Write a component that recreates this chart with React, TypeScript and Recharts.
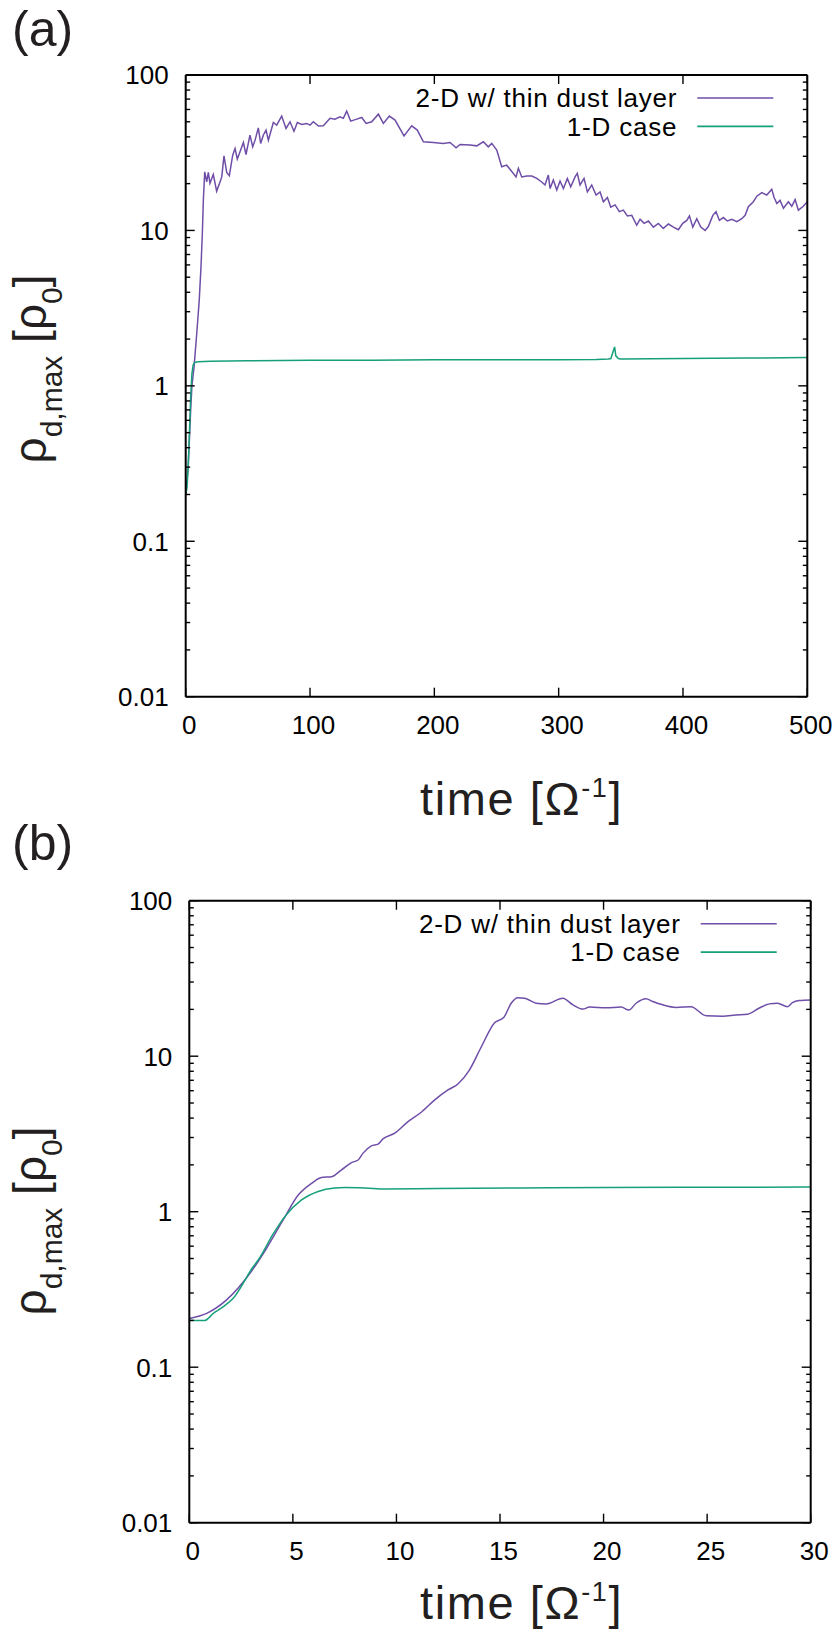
import React from 'react';
import { LineChart, Line, XAxis, YAxis, Label } from 'recharts';

const FONT = '"Liberation Sans", Arial, Helvetica, sans-serif';
const TITLE_COLOR = '#231f20';

// ---- series meta ----
const seriesNames = ['2-D w/ thin dust layer', '1-D case'];
const seriesColors = ['#6f4ea8', '#16a07a'];

// ---- axis ticks ----
const yDecades = [0.01, 0.1, 1, 10, 100];
const yDecadeLabels = ['0.01', '0.1', '1', '10', '100'];
const yAllTicks = [
  0.01, 0.02, 0.03, 0.04, 0.05, 0.06, 0.07, 0.08, 0.09,
  0.1, 0.2, 0.3, 0.4, 0.5, 0.6, 0.7, 0.8, 0.9,
  1, 2, 3, 4, 5, 6, 7, 8, 9,
  10, 20, 30, 40, 50, 60, 70, 80, 90, 100,
];
const xTicksA = [0, 100, 200, 300, 400, 500];
const xLabelsA = ['0', '100', '200', '300', '400', '500'];
const xTicksB = [0, 5, 10, 15, 20, 25, 30];
const xLabelsB = ['0', '5', '10', '15', '20', '25', '30'];

// ---- panel (a) data: [time, rho_d,max] ----
const a2D: [number, number][] = [
  [0, 0.2], [2, 0.3], [4, 0.7], [5, 1.0], [6.7, 1.32], [8.9, 2.18], [10.9, 3.56], [12.3, 5.83],
  [13.4, 9.6], [14.2, 15.7], [15.3, 23.8], [16.9, 20.5], [18.2, 23.6], [19.5, 20.1], [22.2, 22.9],
  [24.9, 17.9], [27.6, 20.5], [29, 22.1], [30.8, 30.2], [33, 23.6], [35.1, 22.5], [37.8, 30.5],
  [39.7, 33.7], [41.5, 28.8], [43.7, 32.1], [46.4, 36.8], [48.5, 30.8], [51.7, 41], [53.9, 34.5],
  [55.8, 38.1], [58.4, 45.7], [60.3, 36.3], [62.4, 41], [64.6, 44.2], [66.5, 38.1], [70.5, 49.5],
  [73.2, 47.6], [77.2, 54.4], [80.7, 45.3], [83.9, 50], [87.1, 43.5], [89.8, 49.5], [93.3, 48.1],
  [97.3, 48.8], [100, 47.6], [102.7, 50], [106.7, 46.9], [110.7, 47.1], [116.1, 52.6], [120.1, 52],
  [124.1, 53.8], [126.8, 52.6], [129.5, 58.6], [132.7, 50.5], [137.6, 52], [141.6, 53.3],
  [145.1, 48.8], [149.6, 50], [155, 56], [159, 48.8], [163.8, 54.4], [168.4, 51.3], [175.6, 40.6],
  [181.8, 47.1], [186.3, 44.2], [191.2, 37.2], [199.2, 36.8], [207.2, 36.3], [212.6, 36.8],
  [217.5, 34], [220.7, 35.7], [228.7, 35.4], [234.1, 35], [239.4, 37.2], [243.4, 34.5],
  [246.2, 36.3], [250.2, 32.9], [254.2, 25.7], [258.2, 26.3], [261.5, 24.4], [265.7, 22.1],
  [267.6, 25.1], [270.3, 22.1], [274.3, 22.4], [278.4, 22.4], [282.4, 21.6], [286.4, 20.5],
  [289, 19.6], [291.7, 22.7], [293.1, 18.6], [295.7, 21.1], [298.5, 18.2], [301.1, 20.8],
  [303.8, 18.6], [307, 21.6], [309.7, 19.1], [313.2, 22.1], [315, 23.3], [317.2, 19.6],
  [320.4, 21.6], [323.1, 17.7], [326.6, 19.6], [330.1, 16.9], [333.3, 17.7], [336, 15.3],
  [339.2, 16.3], [341.9, 14.1], [345.4, 14.6], [348.8, 13.2], [352, 13.5], [355.3, 12.4],
  [358.8, 12.5], [362.8, 10.8], [365.5, 11.8], [368.7, 11.1], [372.2, 11.5], [376.2, 10.5],
  [380.2, 11.1], [384.2, 10.3], [388.3, 11], [392.3, 10.5], [396.3, 10.1], [399.8, 11.1],
  [403.1, 11.6], [405.2, 12.4], [407.9, 10.5], [411.1, 11.9], [414.3, 10.5], [417.8, 10],
  [420.4, 10.6], [424, 12.5], [426.6, 13.2], [429.3, 11.6], [432.5, 12.1], [435.7, 11.5],
  [439.3, 11.8], [443.3, 11.4], [447.3, 11.9], [450, 12.5], [452.6, 14.2], [456.6, 15.3],
  [459.4, 16.6], [463.4, 17.5], [467.4, 16.9], [471.4, 18.4], [473.3, 16.3], [475.5, 14.9],
  [478.1, 15.6], [480.8, 13.9], [484.8, 15.3], [487.5, 14.3], [490.2, 15.8], [492.8, 13.5],
  [496.8, 14.3], [500, 15.3],
];
const a1D: [number, number][] = [
  [0, 0.2], [1, 0.22], [2, 0.3], [3, 0.5], [4, 0.85], [5, 1.2], [6, 1.36], [7, 1.41], [8, 1.42],
  [10, 1.43], [20, 1.44], [50, 1.45], [100, 1.46], [150, 1.46], [200, 1.47], [250, 1.47],
  [300, 1.47], [330, 1.48], [340, 1.49], [342, 1.5], [344, 1.68], [345, 1.78], [346, 1.56],
  [348, 1.5], [350, 1.49], [400, 1.5], [450, 1.51], [500, 1.52],
];

// ---- panel (b) data ----
const b2D: [number, number][] = [
  [0, 0.206], [0.84, 0.222], [1.8, 0.271], [2.93, 0.402], [3.73, 0.582], [4.53, 0.885],
  [5.26, 1.28], [5.9, 1.52], [6.38, 1.66], [6.87, 1.68], [7.35, 1.86], [7.83, 2.07], [8.15, 2.15],
  [8.39, 2.38], [8.79, 2.65], [9.11, 2.72], [9.35, 2.94], [9.92, 3.2], [10.56, 3.8], [11.2, 4.36],
  [11.85, 5.24], [12.49, 6.07], [12.97, 6.63], [13.53, 8.17], [14.1, 11.5], [14.74, 16.4],
  [15.19, 17.8], [15.54, 21.9], [15.86, 23.8], [16.19, 23.6], [16.75, 21.9], [17.23, 21.7],
  [18.03, 23.6], [18.52, 21.4], [19, 20.1], [19.32, 20.7], [20.13, 20.5], [20.85, 20.7],
  [21.22, 19.8], [21.57, 21.9], [22.05, 23.4], [22.37, 22.5], [22.86, 21.4], [23.5, 20.6],
  [24.22, 20.8], [24.95, 18.2], [25.75, 18.1], [26.39, 18.4], [26.95, 18.6], [27.52, 20.4],
  [28, 21.7], [28.4, 21.9], [28.88, 20.8], [29.12, 22.1], [29.44, 22.8], [30, 23.0],
];
const b1D: [number, number][] = [
  [0, 0.2], [0.75, 0.2], [1.16, 0.222], [1.64, 0.245], [2.12, 0.278], [3.09, 0.444], [3.33, 0.49],
  [4.05, 0.72], [4.61, 0.93], [5.42, 1.19], [6.22, 1.35], [7.02, 1.42], [7.5, 1.43], [8.5, 1.42],
  [9.44, 1.4], [12, 1.41], [16, 1.42], [20, 1.43], [25, 1.435], [30, 1.44],
];

const toRows = (arr: [number, number][]) => arr.map(([t, v]) => ({ t, v }));

type Geom = { L: number; R: number; T: number; B: number; W: number; H: number };

type PanelProps = {
  geom: Geom;
  xDomain: [number, number];
  xTicks: number[];
  xLabels: string[];
  data: [number, number][][];
  panelLabel: string;
  panelLabelY: number;
  yTitleCy: number;
  xTitleY: number;
  curve: 'linear' | 'monotone';
};

function Panel({ geom, xDomain, xTicks, xLabels, data, panelLabel, panelLabelY, yTitleCy, xTitleY, curve }: PanelProps) {
  const yAxisW = 60;
  const xAxisH = 30;
  const margin = {
    top: geom.T - 1,
    left: geom.L - yAxisW,
    right: geom.W - geom.R - 1,
    bottom: geom.H - geom.B - xAxisH,
  };
  const tickStroke = { stroke: '#000', strokeWidth: 1.4 };

  const LeftTick = (p: any) => {
    const v = p.payload.value;
    const di = yDecades.indexOf(v);
    const len = di >= 0 ? 9 : 4.5;
    return (
      <g>
        <line x1={geom.L} x2={geom.L + len} y1={p.y} y2={p.y} {...tickStroke} />
        {di >= 0 && (
          <text x={geom.L - 17} y={p.y + 9.3} textAnchor="end" fontSize={26} fontFamily={FONT} fill="#000">
            {yDecadeLabels[di]}
          </text>
        )}
      </g>
    );
  };
  const RightTick = (p: any) => {
    const v = p.payload.value;
    const len = yDecades.indexOf(v) >= 0 ? 9 : 4.5;
    return <line x1={geom.R} x2={geom.R - len} y1={p.y} y2={p.y} {...tickStroke} />;
  };
  const BottomTick = (p: any) => {
    const i = xTicks.indexOf(p.payload.value);
    return (
      <g>
        <line x1={p.x} x2={p.x} y1={geom.B} y2={geom.B - 9} {...tickStroke} />
        <text x={p.x + 3.5} y={geom.B + 36.8} textAnchor="middle" fontSize={26} fontFamily={FONT} fill="#000">
          {xLabels[i]}
        </text>
      </g>
    );
  };
  const TopTick = (p: any) => <line x1={p.x} x2={p.x} y1={geom.T} y2={geom.T + 9} {...tickStroke} />;

  const legendContent = () => (
    <g>
      {seriesNames.map((name, i) => {
        const ly = geom.T + 23 + i * 28.4;
        return (
          <g key={name}>
            <text x={geom.R - 130} y={ly + 9.3} textAnchor="end" fontSize={26} letterSpacing={0.8}
              fontFamily={FONT} fill="#000">{name}</text>
            <line x1={geom.R - 110} x2={geom.R - 34} y1={ly} y2={ly} stroke={seriesColors[i]} strokeWidth={1.6} />
          </g>
        );
      })}
    </g>
  );

  const xTitle = () => (
    <text x={420} y={xTitleY} fontSize={47} letterSpacing={1.6} fontFamily={FONT} fill={TITLE_COLOR}>
      {'time [Ω'}
      <tspan fontSize={27} dy={-18}>-1</tspan>
      <tspan dy={18}>]</tspan>
    </text>
  );

  const yTitle = () => (
    <g>
      <text x={46} y={yTitleCy} transform={`rotate(-90, 46, ${yTitleCy})`} textAnchor="middle"
        fontFamily={FONT} fill={TITLE_COLOR}>
        <tspan fontSize={46}>ρ</tspan>
        <tspan fontSize={30} dy={16}>d,max</tspan>
        <tspan fontSize={46} dy={-16}>{' [ρ'}</tspan>
        <tspan fontSize={30} dy={16}>0</tspan>
        <tspan fontSize={46} dy={-16}>]</tspan>
      </text>
      <text x={12} y={panelLabelY} fontSize={50} fontFamily={FONT} fill={TITLE_COLOR}>{panelLabel}</text>
    </g>
  );

  return (
    <LineChart width={geom.W} height={geom.H} margin={margin}>
      <XAxis xAxisId="b" type="number" dataKey="t" domain={xDomain} ticks={xTicks} interval={0}
        height={xAxisH} tickLine={false} axisLine={{ stroke: '#000', strokeWidth: 2 }} tick={BottomTick}
        allowDataOverflow>
        <Label content={xTitle} />
      </XAxis>
      <XAxis xAxisId="top" orientation="top" type="number" dataKey="t" domain={xDomain} ticks={xTicks}
        interval={0} height={1} tickLine={false} axisLine={{ stroke: '#000', strokeWidth: 2 }} tick={TopTick}
        allowDataOverflow>
        <Label content={legendContent} />
      </XAxis>
      <YAxis yAxisId="l" type="number" scale="log" domain={[0.01, 100]} ticks={yAllTicks} interval={0}
        width={yAxisW} tickLine={false} axisLine={{ stroke: '#000', strokeWidth: 2 }} tick={LeftTick}
        allowDataOverflow>
        <Label content={yTitle} />
      </YAxis>
      <YAxis yAxisId="r" orientation="right" type="number" scale="log" domain={[0.01, 100]} ticks={yAllTicks}
        interval={0} width={1} tickLine={false} axisLine={{ stroke: '#000', strokeWidth: 2 }} tick={RightTick}
        allowDataOverflow />
      {data.map((d, i) => (
        <Line key={seriesNames[i]} name={seriesNames[i]} xAxisId="b" yAxisId="l" data={toRows(d)}
          dataKey="v" type={curve} stroke={seriesColors[i]} strokeWidth={1.5} dot={false}
          isAnimationActive={false} />
      ))}
    </LineChart>
  );
}

export default function App() {
  return (
    <div style={{ position: 'absolute', left: 0, top: 0, width: 837, height: 1638, background: '#fff', overflow: 'hidden' }}>
      <div style={{ position: 'absolute', left: 0, top: 0 }}>
        <Panel
          geom={{ L: 185.7, R: 807.3, T: 75, B: 696.7, W: 837, H: 840 }}
          xDomain={[0, 500]}
          xTicks={xTicksA}
          xLabels={xLabelsA}
          data={[a2D, a1D]}
          panelLabel="(a)"
          panelLabelY={46}
          yTitleCy={369}
          xTitleY={815}
          curve="linear"
        />
      </div>
      <div style={{ position: 'absolute', left: 0, top: 790 }}>
        <Panel
          geom={{ L: 189.3, R: 810.7, T: 110.7, B: 732.7, W: 837, H: 848 }}
          xDomain={[0, 30]}
          xTicks={xTicksB}
          xLabels={xLabelsB}
          data={[b2D, b1D]}
          panelLabel="(b)"
          panelLabelY={70}
          yTitleCy={431}
          xTitleY={829}
          curve="monotone"
        />
      </div>
    </div>
  );
}
